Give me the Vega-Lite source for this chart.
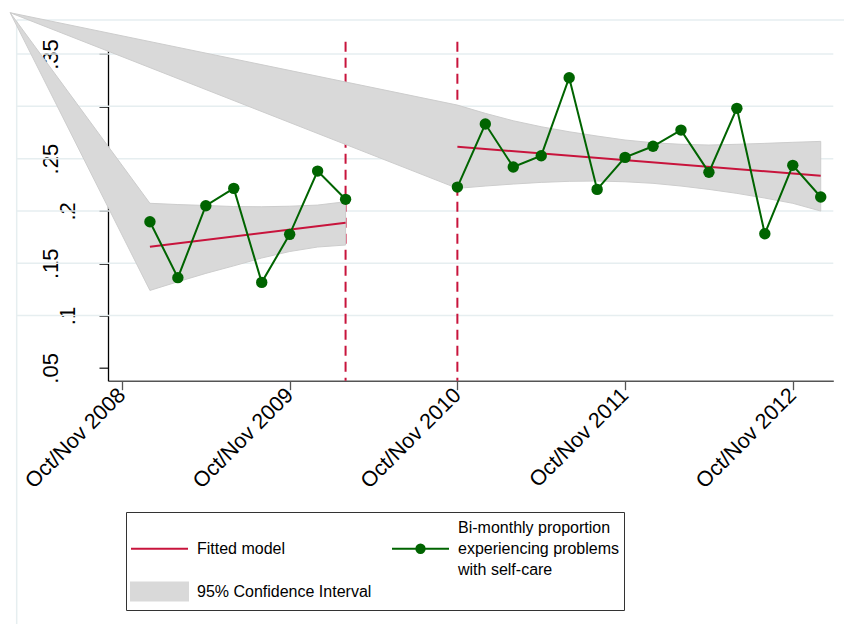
{
  "$schema": "https://vega.github.io/schema/vega-lite/v6.json",
  "width": 725.3,
  "height": 339,
  "autosize": {"type": "none"},
  "padding": {"left": 108, "top": 41.7, "right": 10.7, "bottom": 243.3},
  "background": "white",
  "config": {"view": {"stroke": null}},
  "datasets": {
    "obs": [
      {"t": 1, "seg": "pre", "p": 0.1897},
      {"t": 2, "seg": "pre", "p": 0.1362},
      {"t": 3, "seg": "pre", "p": 0.2050},
      {"t": 4, "seg": "pre", "p": 0.2216},
      {"t": 5, "seg": "pre", "p": 0.1317},
      {"t": 6, "seg": "pre", "p": 0.1776},
      {"t": 7, "seg": "pre", "p": 0.2381},
      {"t": 8, "seg": "pre", "p": 0.2111},
      {"t": 12, "seg": "post", "p": 0.2228},
      {"t": 13, "seg": "post", "p": 0.2831},
      {"t": 14, "seg": "post", "p": 0.2420},
      {"t": 15, "seg": "post", "p": 0.2528},
      {"t": 16, "seg": "post", "p": 0.3273},
      {"t": 17, "seg": "post", "p": 0.2206},
      {"t": 18, "seg": "post", "p": 0.2512},
      {"t": 19, "seg": "post", "p": 0.2618},
      {"t": 20, "seg": "post", "p": 0.2773},
      {"t": 21, "seg": "post", "p": 0.2369},
      {"t": 22, "seg": "post", "p": 0.2981},
      {"t": 23, "seg": "post", "p": 0.1782},
      {"t": 24, "seg": "post", "p": 0.2436},
      {"t": 25, "seg": "post", "p": 0.2133}
    ],
    "fit": [
      {"t": 1, "seg": "pre", "fit": 0.1658},
      {"t": 8, "seg": "pre", "fit": 0.1887},
      {"t": 12, "seg": "post", "fit": 0.2614},
      {"t": 25, "seg": "post", "fit": 0.2337}
    ],
    "ci": [
      {"t": -4, "seg": "pre", "lo": 0.3895, "hi": 0.3895},
      {"t": 1, "seg": "pre", "lo": 0.1240, "hi": 0.2073},
      {"t": 2, "seg": "pre", "lo": 0.1323, "hi": 0.2061},
      {"t": 3, "seg": "pre", "lo": 0.1403, "hi": 0.2052},
      {"t": 4, "seg": "pre", "lo": 0.1475, "hi": 0.2042},
      {"t": 5, "seg": "pre", "lo": 0.1550, "hi": 0.2040},
      {"t": 6, "seg": "pre", "lo": 0.1612, "hi": 0.2045},
      {"t": 7, "seg": "pre", "lo": 0.1655, "hi": 0.2056},
      {"t": 8, "seg": "pre", "lo": 0.1674, "hi": 0.2088},
      {"t": -4, "seg": "post", "lo": 0.3895, "hi": 0.3895},
      {"t": 12, "seg": "post", "lo": 0.2216, "hi": 0.3012},
      {"t": 13, "seg": "post", "lo": 0.2238, "hi": 0.2933},
      {"t": 14, "seg": "post", "lo": 0.2257, "hi": 0.2862},
      {"t": 15, "seg": "post", "lo": 0.2273, "hi": 0.2805},
      {"t": 16, "seg": "post", "lo": 0.2283, "hi": 0.2757},
      {"t": 17, "seg": "post", "lo": 0.2286, "hi": 0.2716},
      {"t": 18, "seg": "post", "lo": 0.2279, "hi": 0.2678},
      {"t": 19, "seg": "post", "lo": 0.2264, "hi": 0.2652},
      {"t": 20, "seg": "post", "lo": 0.2238, "hi": 0.2637},
      {"t": 21, "seg": "post", "lo": 0.2206, "hi": 0.2630},
      {"t": 22, "seg": "post", "lo": 0.2168, "hi": 0.2637},
      {"t": 23, "seg": "post", "lo": 0.2123, "hi": 0.2646},
      {"t": 24, "seg": "post", "lo": 0.2073, "hi": 0.2656},
      {"t": 25, "seg": "post", "lo": 0.1999, "hi": 0.2665}
    ],
    "grid": [
      {"g": 0.1}, {"g": 0.15}, {"g": 0.2}, {"g": 0.25}, {"g": 0.3}, {"g": 0.35}
    ],
    "breaks": [
      {"t": 8, "event": "end of pre-period"},
      {"t": 12, "event": "start of post-period"}
    ],
    "region": [
      {"part": "plot region outline"}
    ]
  },
  "layer": [
    {
      "data": {"name": "region"},
      "mark": {"type": "rule", "color": "#e6eef0", "strokeWidth": 1.5},
      "encoding": {
        "x": {"datum": -3.767},
        "x2": {"datum": 27},
        "y": {"datum": 0.3825}
      }
    },
    {
      "data": {"name": "region"},
      "mark": {"type": "rule", "color": "#e6eef0", "strokeWidth": 1.5},
      "encoding": {
        "x": {"datum": -3.767},
        "y": {"datum": 0.3825},
        "y2": {"datum": -0.3}
      }
    },
    {
      "data": {"name": "grid"},
      "mark": {"type": "rule", "color": "#e6eef0", "strokeWidth": 1.5},
      "encoding": {
        "x": {"datum": -3.767},
        "x2": {"datum": 25.45},
        "y": {"field": "g", "type": "quantitative", "title": null}
      }
    },
    {
      "data": {"name": "breaks"},
      "mark": {"type": "rule", "color": "#c8143c", "strokeWidth": 2, "strokeDash": [10, 6]},
      "encoding": {
        "x": {"field": "t", "type": "quantitative", "title": null}
      }
    },
    {
      "data": {"name": "ci"},
      "mark": {"type": "area", "stroke": "#cdcdcd", "strokeWidth": 1, "opacity": 1},
      "encoding": {
        "x": {
          "field": "t",
          "type": "quantitative",
          "title": null,
          "scale": {"domain": [-0.5, 25.45], "nice": false, "zero": false},
          "axis": {
            "values": [0, 6, 12, 18, 24],
            "labelExpr": "'Oct/Nov ' + (2008 + datum.value / 6)",
            "labelAngle": -45,
            "labelAlign": "right",
            "labelBaseline": "middle",
            "labelPadding": 2,
            "labelFont": "Liberation Sans",
            "labelFontSize": 21.5,
            "labelColor": "#000000",
            "tickSize": 9,
            "tickWidth": 1.3,
            "tickColor": "#555555",
            "domainColor": "#555555",
            "domainWidth": 1.5,
            "grid": false
          }
        },
        "y": {
          "field": "lo",
          "type": "quantitative",
          "title": null,
          "scale": {"domain": [0.0377, 0.3618], "nice": false, "zero": false},
          "axis": {
            "values": [0.05, 0.1, 0.15, 0.2, 0.25, 0.3, 0.35],
            "labelExpr": "substring(format(datum.value, '.2~f'), 1)",
            "labelAngle": -90,
            "labelAlign": "center",
            "labelBaseline": "alphabetic",
            "labelPadding": {
              "condition": {"test": "datum.value === 0.1 || datum.value === 0.2 || datum.value === 0.3", "value": 25},
              "value": 42
            },
            "labelFont": "Liberation Sans",
            "labelFontSize": 22,
            "labelColor": "#000000",
            "tickSize": 9,
            "tickWidth": 1.3,
            "tickColor": "#222222",
            "domainColor": "#000000",
            "domainWidth": 1.3,
            "grid": false
          }
        },
        "y2": {"field": "hi"},
        "detail": {"field": "seg"},
        "color": {"datum": "95% Confidence Interval"}
      }
    },
    {
      "data": {"name": "fit"},
      "mark": {"type": "line", "strokeWidth": 2},
      "encoding": {
        "x": {"field": "t", "type": "quantitative", "title": null},
        "y": {"field": "fit", "type": "quantitative", "title": null},
        "detail": {"field": "seg"},
        "color": {
          "datum": "Fitted model",
          "scale": {
            "domain": ["Fitted model", "Bi-monthly proportion experiencing problems with self-care", "95% Confidence Interval"],
            "range": ["#c8143c", "#006400", "#d9d9d9"]
          },
          "legend": {
            "title": null,
            "orient": "none",
            "legendX": 18,
            "legendY": 470.3,
            "direction": "horizontal",
            "columns": 2,
            "strokeColor": "#333333",
            "fillColor": "#ffffff",
            "padding": 5,
            "rowPadding": 0,
            "columnPadding": 16,
            "symbolSize": 361,
            "symbolStrokeWidth": 2,
            "symbolOffset": 18,
            "labelOffset": 27,
            "labelFont": "Liberation Sans",
            "labelFontSize": 16,
            "labelColor": "#000000",
            "labelLimit": 500,
            "labelExpr": "datum.label === 'Bi-monthly proportion experiencing problems with self-care' ? ['Bi-monthly proportion', 'experiencing problems', 'with self-care'] : datum.label === 'Fitted model' ? ['', 'Fitted model', ''] : datum.label",
            "encode": {
              "symbols": {
                "update": {
                  "shape": {"signal": "datum.value === 'Fitted model' ? 'M-3,2.21H3' : datum.value === '95% Confidence Interval' ? 'M-3,-2.53H3V-0.63H-3Z' : 'M-3,2.21H3M-0.44,2.21A0.44,0.44 0 1,0 0.44,2.21A0.44,0.44 0 1,0 -0.44,2.21Z'"},
                  "fill": {"signal": "datum.value === 'Fitted model' ? 'transparent' : datum.value === '95% Confidence Interval' ? '#d9d9d9' : '#006400'"},
                  "stroke": {"signal": "datum.value === 'Fitted model' ? '#c8143c' : datum.value === '95% Confidence Interval' ? '#d9d9d9' : '#006400'"},
                  "opacity": {"value": 1}
                }
              },
              "labels": {
                "update": {
                  "lineHeight": {"value": 21},
                  "dy": {"signal": "datum.value === '95% Confidence Interval' ? -15 : 0"}
                }
              }
            }
          }
        }
      }
    },
    {
      "data": {"name": "obs"},
      "mark": {"type": "line", "strokeWidth": 2},
      "encoding": {
        "x": {"field": "t", "type": "quantitative", "title": null},
        "y": {"field": "p", "type": "quantitative", "title": null},
        "detail": {"field": "seg"},
        "color": {"datum": "Bi-monthly proportion experiencing problems with self-care"}
      }
    },
    {
      "data": {"name": "obs"},
      "mark": {"type": "point", "filled": true, "size": 130, "opacity": 1},
      "encoding": {
        "x": {"field": "t", "type": "quantitative", "title": null},
        "y": {"field": "p", "type": "quantitative", "title": null},
        "color": {"datum": "Bi-monthly proportion experiencing problems with self-care"}
      }
    }
  ]
}
